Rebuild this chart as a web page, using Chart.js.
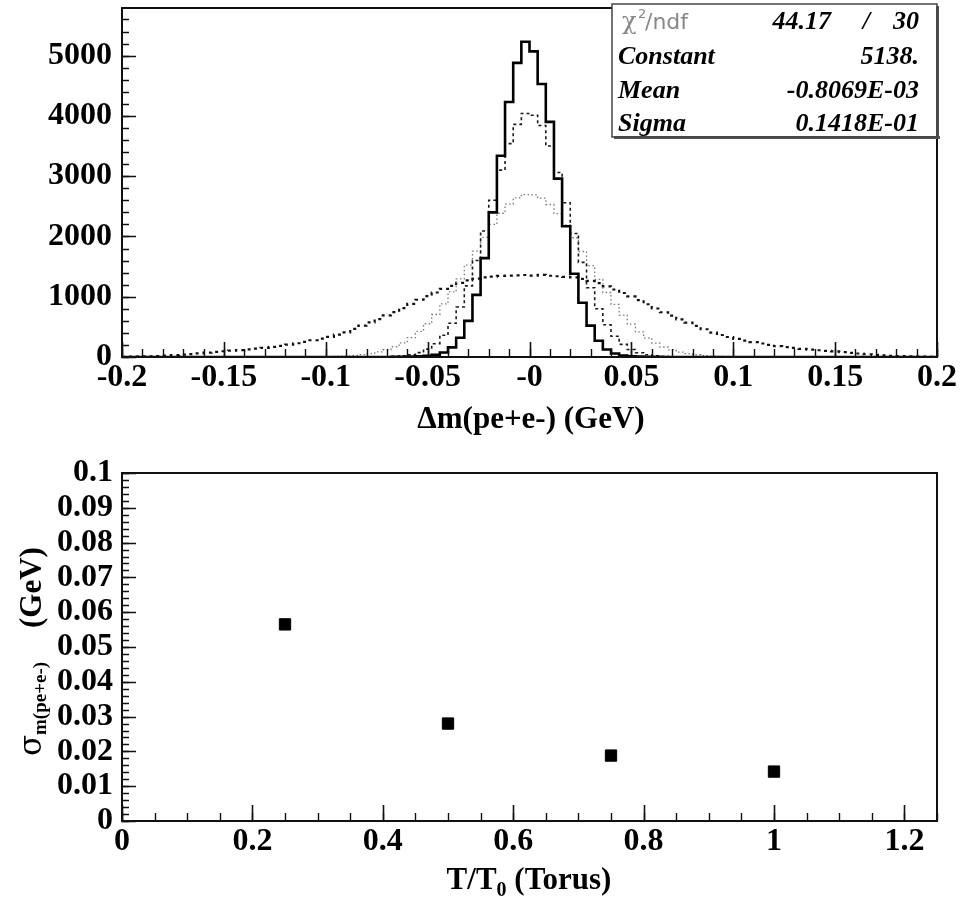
<!DOCTYPE html>
<html><head><meta charset="utf-8">
<script src="https://cdn.jsdelivr.net/npm/chart.js@4.4.0/dist/chart.umd.min.js"></script>
<style>
html,body{margin:0;padding:0;background:#fff;}
#wrap{position:relative;width:961px;height:905px;overflow:hidden;background:#fff;}
.panel{position:absolute;left:0;width:961px;}
#p1{top:0;height:450px;}
#p2{top:450px;height:455px;}
</style></head><body>
<div id="wrap">
<div class="panel" id="p1"><canvas id="c1"></canvas></div>
<div class="panel" id="p2"><canvas id="c2"></canvas></div>
</div>
<script>
// ---------- DATA (top panel: histograms, 100 bins of 0.004 GeV from -0.2 to 0.2) ----------
const binLow = -0.2;
const binWidth = 0.004;
const histSolid = [
 0,0,0,0,0,0,0,0,0,0, 0,0,0,0,0,0,0,0,0,0, 0,0,0,0,0,0,0,0,0,0, 0,0,0,
 2,4,6,10,18,35,75,160,320,600,1030,1640,2400,3340,4230,4880,5230,
 5070,4530,3900,2960,2170,1380,900,520,270,125,58,26,12,6,3,2,1,
 0,0,0,0,0,0,0,0,0,0, 0,0,0,0,0,0,0,0,0,0, 0,0,0,0,0,0,0,0,0,0, 0,0,0
];
const histT075 = [
 0,0,0,0,0,0,0,0,0,0, 0,0,0,0,0,0,0,0,0,0, 0,0,0,0,0,0,0,0,0,0,
 2,3,5,10,20,38,72,130,220,360,560,830,1180,1600,2090,2600,3100,3540,3860,4040,
 4010,3840,3500,3060,2560,2050,1570,1150,800,535,345,210,125,70,37,19,10,5,3,2,
 0,0,0,0,0,0,0,0,0,0, 0,0,0,0,0,0,0,0,0,0, 0,0,0,0,0,0,0,0,0,0
];
const histT050 = [
 0,0,0,0,0,0,0,0,0,0, 0,0,0,0,0,0,0,0,0,0,
 1,2,3,4,5,7,11,16,25,38,57,84,120,170,235,320,425,552,705,880,
 1080,1295,1525,1755,1985,2200,2385,2535,2640,2695,
 2690,2635,2530,2380,2190,1978,1750,1515,1288,1070,872,696,545,418,314,230,166,117,81,55,
 37,24,15,10,6,4,3,2,1,1,
 0,0,0,0,0,0,0,0,0,0, 0,0,0,0,0,0,0,0,0,0
];
const histT025 = [
 4,6,9,12,17,23,30,38,48,60,72,85,95,105,115,126,138,152,168,185,
 205,228,252,278,305,335,370,410,465,520,575,630,690,745,810,880,950,1010,1070,1130,
 1180,1230,1270,1300,1320,1335,1345,1350,1355,1360,
 1350,1362,1348,1340,1330,1322,1296,1262,1225,1172,1120,1062,1005,945,875,805,742,685,625,570,
 515,460,405,365,332,300,272,248,224,202,180,165,150,135,122,112,102,92,82,70,
 58,46,36,28,21,16,11,8,5,3
];
const topXTicks = [-0.2,-0.15,-0.1,-0.05,0,0.05,0.1,0.15,0.2];
const topXLabels = ['-0.2','-0.15','-0.1','-0.05','-0','0.05','0.1','0.15','0.2'];
const topYTicks = [0,1000,2000,3000,4000,5000];
const topYLabels = ['0','1000','2000','3000','4000','5000'];
const statNames = ['Constant','Mean','Sigma'];
const statValues = ['5138.','-0.8069E-03','0.1418E-01'];
const chi2Value = '44.17';
const ndfValue = '30';

// ---------- DATA (bottom panel) ----------
const torusRatio = [0.25, 0.5, 0.75, 1.0];
const sigmaMass = [0.0565, 0.028, 0.0188, 0.0142];
const botXTicks = [0,0.2,0.4,0.6,0.8,1.0,1.2];
const botXLabels = ['0','0.2','0.4','0.6','0.8','1','1.2'];
const botYTicks = [0,0.01,0.02,0.03,0.04,0.05,0.06,0.07,0.08,0.09,0.1];
const botYLabels = ['0','0.01','0.02','0.03','0.04','0.05','0.06','0.07','0.08','0.09','0.1'];

// ---------- helpers ----------
const SERIF = '"Liberation Serif","Times New Roman",serif';
function histPoints(vals){
  const pts = vals.map((v,i)=>({x: binLow + i*binWidth, y: v}));
  pts.push({x: binLow + vals.length*binWidth, y: vals[vals.length-1]});
  return pts;
}
function range(a,b,step){const r=[];const n=Math.round((b-a)/step);for(let i=0;i<=n;i++)r.push(a+i*step);return r;}
function fixBox(size){
  return function(scale){
    if(scale.isHorizontal()) scale.height = size; else scale.width = size;
    scale.paddingTop=0;scale.paddingBottom=0;scale.paddingLeft=0;scale.paddingRight=0;
  };
}
function setTicks(vals){ return function(scale){ scale.ticks = vals.map(v=>({value:v})); }; }
function drawTicks(chart, id, vals, len, lw){
  const ctx=chart.ctx, s=chart.scales[id], a=chart.chartArea;
  ctx.save(); ctx.strokeStyle='#111'; ctx.lineWidth=lw; ctx.beginPath();
  vals.forEach(v=>{
    const p=Math.round(s.getPixelForValue(v))+0.5;
    if(s.isHorizontal()){ctx.moveTo(p,a.bottom);ctx.lineTo(p,a.bottom-len);}
    else{ctx.moveTo(a.left,p);ctx.lineTo(a.left+len,p);}
  });
  ctx.stroke(); ctx.restore();
}
function drawFrame(chart){
  const ctx=chart.ctx,a=chart.chartArea;
  ctx.save(); ctx.strokeStyle='#111'; ctx.lineWidth=2;
  ctx.strokeRect(a.left,a.top,a.right-a.left,a.bottom-a.top); ctx.restore();
}
function tickFont(){ return {family:SERIF, size:32, weight:'bold'}; }

// ---------- top chart ----------
const topPlugin = {
  id:'topDeco',
  afterDraw(chart){
    const ctx=chart.ctx;
    drawTicks(chart,'x',range(-0.2,0.2,0.01),8,1.4);
    drawTicks(chart,'x',topXTicks,15,1.6);
    drawTicks(chart,'y',range(0,5600,200),7,1.4);
    drawTicks(chart,'y',topYTicks,14,1.6);
    drawFrame(chart);
    // axis title
    ctx.save(); ctx.fillStyle='#000'; ctx.font='bold 31px '+SERIF;
    ctx.textAlign='center'; ctx.textBaseline='alphabetic';
    ctx.fillText('\u0394m(pe+e-) (GeV)', 531, 428);
    // stats box
    const bx=612, by=4, bw=325, bh=133;
    ctx.fillStyle='#fff'; ctx.fillRect(bx,by,bw,bh);
    ctx.fillStyle='#555'; ctx.fillRect(bx+bw-1,by+2,3,bh); ctx.fillRect(bx+2,by+bh-1,bw+1,3);
    ctx.strokeStyle='#444'; ctx.lineWidth=1.5; ctx.strokeRect(bx,by,bw,bh);
    ctx.textAlign='left';
    ctx.fillStyle='#888'; ctx.font='24px "DejaVu Serif",serif';
    ctx.fillText('\u03C7',622,29);
    ctx.font='13px "DejaVu Sans",sans-serif'; ctx.fillText('2',638,18);
    ctx.font='22px "DejaVu Sans",sans-serif'; ctx.fillText('/ndf',645,29);
    ctx.fillStyle='#000'; ctx.font='italic bold 26px '+SERIF;
    ctx.textAlign='right';
    ctx.fillText(chi2Value,831,29); ctx.fillText('/',870,29); ctx.fillText(ndfValue,919,29);
    const rows=[64,98,131];
    statNames.forEach((n,i)=>{
      ctx.textAlign='left'; ctx.fillText(n,618,rows[i]);
      ctx.textAlign='right'; ctx.fillText(statValues[i],919,rows[i]);
    });
    ctx.restore();
  }
};
new Chart(document.getElementById('c1'),{
  type:'line',
  data:{datasets:[
    {data:histPoints(histSolid),borderColor:'#000',borderWidth:2.6,stepped:'before',pointRadius:0,fill:false},
    {data:histPoints(histT075),borderColor:'#1a1a1a',borderWidth:1.6,borderDash:[3,3],stepped:'before',pointRadius:0,fill:false},
    {data:histPoints(histT050),borderColor:'#7a7a7a',borderWidth:1.3,borderDash:[1.5,2.5],stepped:'before',pointRadius:0,fill:false},
    {data:histPoints(histT025),borderColor:'#111',borderWidth:2.2,borderDash:[3,4],stepped:'before',pointRadius:0,fill:false}
  ]},
  options:{
    responsive:true, maintainAspectRatio:false, animation:false, devicePixelRatio:1,
    layout:{padding:{left:0,right:24,top:8,bottom:0}},
    plugins:{legend:{display:false},tooltip:{enabled:false}},
    scales:{
      x:{type:'linear',min:-0.2,max:0.2,
         afterBuildTicks:setTicks(topXTicks), afterFit:fixBox(93),
         grid:{display:false,drawTicks:false}, border:{display:false},
         ticks:{color:'#000',font:tickFont(),padding:2,maxRotation:0,autoSkip:false,
                callback:(v,i)=>topXLabels[i]}},
      y:{type:'linear',min:0,max:5790,
         afterBuildTicks:setTicks(topYTicks), afterFit:fixBox(122),
         grid:{display:false,drawTicks:false}, border:{display:false},
         ticks:{color:'#000',font:tickFont(),padding:10,autoSkip:false,
                callback:(v,i)=>topYLabels[i]}}
    }
  },
  plugins:[topPlugin]
});

// ---------- bottom chart ----------
const botPlugin = {
  id:'botDeco',
  afterDraw(chart){
    const ctx=chart.ctx;
    drawTicks(chart,'x',range(0,1.25,0.05),8,1.4);
    drawTicks(chart,'x',botXTicks,16,1.6);
    drawTicks(chart,'y',range(0,0.1,0.002),7,1.3);
    drawTicks(chart,'y',botYTicks,14,1.6);
    drawFrame(chart);
    ctx.save(); ctx.fillStyle='#000'; ctx.textBaseline='alphabetic';
    // x title: T/T0 (Torus)
    ctx.font='bold 31px '+SERIF;
    const w1=ctx.measureText('T/T').width;
    ctx.font='bold 20px '+SERIF; const w2=ctx.measureText('0').width;
    ctx.font='bold 31px '+SERIF; const w3=ctx.measureText(' (Torus)').width;
    let x0=529-(w1+w2+w3)/2, yb=439;
    ctx.textAlign='left';
    ctx.fillText('T/T',x0,yb);
    ctx.font='bold 20px '+SERIF; ctx.fillText('0',x0+w1,yb+7);
    ctx.font='bold 31px '+SERIF; ctx.fillText(' (Torus)',x0+w1+w2,yb);
    // y title: sigma_{m(pe+e-)} (GeV), rotated
    ctx.translate(41,0); ctx.rotate(-Math.PI/2);
    ctx.textAlign='left';
    ctx.font='31px "DejaVu Serif",serif'; ctx.fillText('\u03C3',-306,0);
    ctx.font='bold 19px '+SERIF; ctx.fillText('m(pe+e-)',-285,5);
    ctx.font='bold 31px '+SERIF; ctx.fillText('(GeV)',-178,0);
    ctx.restore();
  }
};
new Chart(document.getElementById('c2'),{
  type:'scatter',
  data:{datasets:[{
    data:torusRatio.map((t,i)=>({x:t,y:sigmaMass[i]})),
    pointStyle:'rect', pointRadius:8, pointBackgroundColor:'#000', pointBorderColor:'#000', pointBorderWidth:1
  }]},
  options:{
    responsive:true, maintainAspectRatio:false, animation:false, devicePixelRatio:1,
    layout:{padding:{left:0,right:24,top:23,bottom:0}},
    plugins:{legend:{display:false},tooltip:{enabled:false}},
    scales:{
      x:{type:'linear',min:0,max:1.25,
         afterBuildTicks:setTicks(botXTicks), afterFit:fixBox(84),
         grid:{display:false,drawTicks:false}, border:{display:false},
         ticks:{color:'#000',font:tickFont(),padding:2,maxRotation:0,autoSkip:false,
                callback:(v,i)=>botXLabels[i]}},
      y:{type:'linear',min:0,max:0.1,
         afterBuildTicks:setTicks(botYTicks), afterFit:fixBox(122),
         grid:{display:false,drawTicks:false}, border:{display:false},
         ticks:{color:'#000',font:tickFont(),padding:9,autoSkip:false,
                callback:(v,i)=>botYLabels[i]}}
    }
  },
  plugins:[botPlugin]
});
</script>
</body></html>
